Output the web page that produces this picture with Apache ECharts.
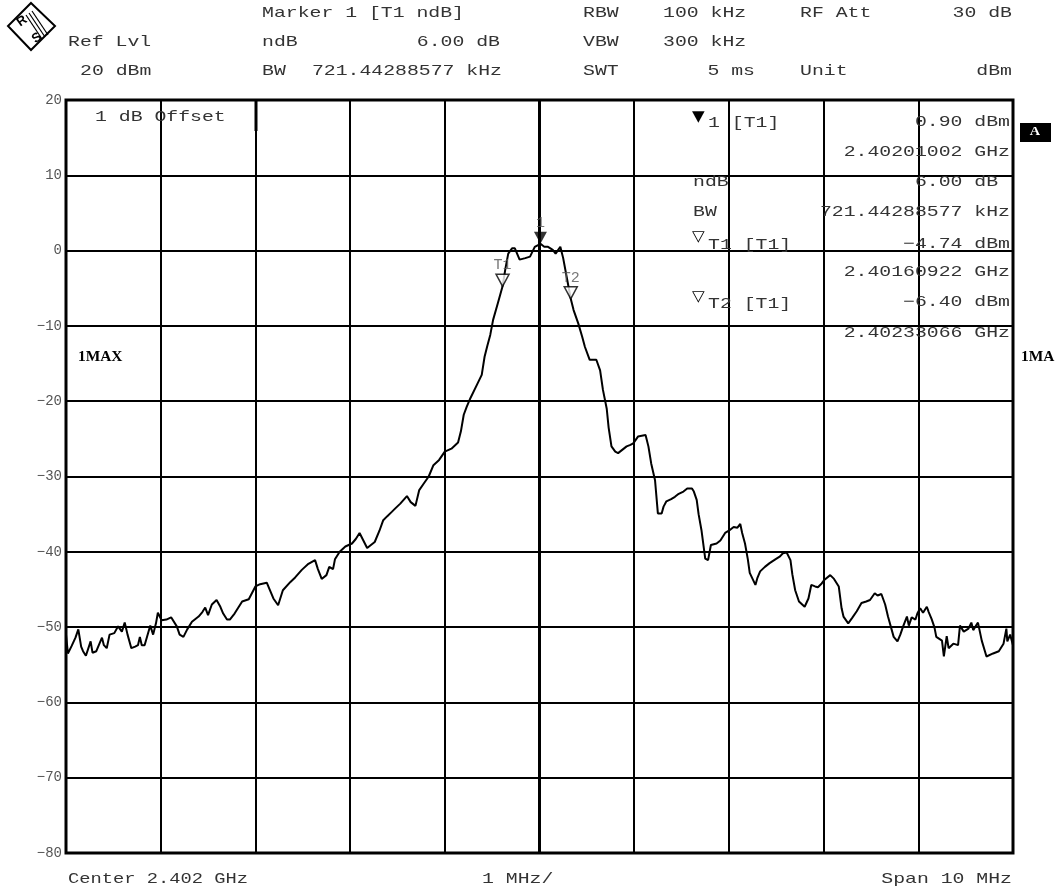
<!DOCTYPE html>
<html>
<head>
<meta charset="utf-8">
<script src="https://cdn.jsdelivr.net/npm/echarts@6/dist/echarts.min.js"></script>
<style>html,body{margin:0;padding:0;background:#fff}#c{width:1056px;height:890px}</style>
</head>
<body>
<div id="c"></div>
<script>
// Frequency offset from centre 2.402 GHz, in MHz
const freqMHz = [-5.00,-4.98,-4.96,-4.94,-4.90,-4.87,-4.84,-4.82,-4.79,-4.74,-4.72,-4.68,-4.62,-4.60,-4.57,-4.54,-4.49,-4.45,-4.41,-4.38,-4.35,-4.31,-4.27,-4.24,-4.22,-4.20,-4.17,-4.11,-4.08,-4.05,-4.03,-3.99,-3.94,-3.89,-3.83,-3.80,-3.76,-3.72,-3.67,-3.60,-3.56,-3.53,-3.50,-3.46,-3.41,-3.37,-3.34,-3.30,-3.27,-3.22,-3.14,-3.07,-3.00,-2.95,-2.88,-2.85,-2.81,-2.76,-2.71,-2.63,-2.58,-2.51,-2.44,-2.37,-2.34,-2.30,-2.25,-2.22,-2.18,-2.16,-2.11,-2.05,-1.98,-1.94,-1.90,-1.86,-1.82,-1.78,-1.74,-1.69,-1.65,-1.61,-1.56,-1.52,-1.47,-1.40,-1.36,-1.31,-1.27,-1.22,-1.17,-1.12,-1.06,-1.00,-0.93,-0.86,-0.83,-0.80,-0.77,-0.73,-0.66,-0.61,-0.58,-0.55,-0.52,-0.49,-0.44,-0.39,-0.36,-0.33,-0.29,-0.26,-0.23,-0.21,-0.15,-0.10,-0.05,0.01,0.05,0.09,0.14,0.17,0.22,0.25,0.29,0.33,0.36,0.41,0.45,0.48,0.53,0.60,0.64,0.67,0.71,0.73,0.76,0.80,0.83,0.89,0.92,0.96,0.99,1.04,1.08,1.12,1.15,1.18,1.22,1.25,1.29,1.31,1.34,1.39,1.43,1.47,1.52,1.56,1.61,1.63,1.66,1.68,1.71,1.75,1.78,1.81,1.83,1.87,1.91,1.96,2.00,2.05,2.09,2.12,2.14,2.17,2.20,2.22,2.28,2.30,2.33,2.38,2.43,2.49,2.54,2.57,2.61,2.65,2.67,2.70,2.74,2.80,2.84,2.87,2.91,2.94,2.98,3.01,3.07,3.11,3.16,3.19,3.21,3.26,3.30,3.35,3.40,3.45,3.49,3.54,3.57,3.61,3.65,3.68,3.74,3.78,3.81,3.84,3.88,3.90,3.93,3.97,3.99,4.02,4.05,4.09,4.11,4.14,4.17,4.19,4.25,4.27,4.30,4.32,4.37,4.42,4.44,4.48,4.53,4.56,4.58,4.63,4.67,4.72,4.79,4.85,4.90,4.93,4.94,4.97,5.00];
// Trace level, dBm
const levelDbm = [-51.0,-53.5,-53.7,-52.5,-51.4,-50.3,-52.6,-53.2,-53.8,-51.9,-53.4,-53.2,-51.4,-52.4,-52.8,-51.0,-50.8,-49.9,-50.6,-49.4,-51.0,-52.8,-52.6,-52.4,-51.3,-52.4,-52.4,-49.8,-51.0,-49.5,-48.1,-49.1,-49.0,-48.7,-49.9,-51.0,-51.3,-50.3,-49.3,-48.6,-48.0,-47.4,-48.4,-47.0,-46.4,-47.3,-48.2,-49.0,-49.0,-48.2,-46.6,-46.3,-44.6,-44.3,-44.1,-45.0,-46.2,-47.1,-45.1,-44.0,-43.4,-42.4,-41.6,-41.1,-42.3,-43.6,-43.1,-42.0,-42.3,-41.0,-40.0,-39.3,-38.9,-38.3,-37.5,-38.5,-39.5,-39.1,-38.7,-37.2,-35.8,-35.3,-34.7,-34.2,-33.6,-32.6,-33.4,-33.9,-31.8,-30.9,-30.0,-28.5,-27.8,-26.7,-26.3,-25.5,-24.0,-21.8,-20.8,-19.6,-17.8,-16.5,-14.1,-12.6,-11.2,-9.2,-7.0,-4.74,-2.4,-0.4,0.3,0.3,-0.6,-1.2,-1.0,-0.8,0.5,0.9,0.5,0.5,0.1,-0.4,0.5,-1.0,-3.7,-6.4,-7.9,-9.7,-11.4,-12.8,-14.5,-14.5,-15.9,-18.5,-21.0,-23.5,-26.0,-26.7,-26.9,-26.3,-26.0,-25.8,-25.6,-24.7,-24.6,-24.5,-26.0,-28.3,-30.5,-34.9,-34.9,-34.0,-33.3,-33.0,-32.7,-32.3,-32.0,-31.6,-31.6,-32.0,-33.1,-35.0,-37.1,-40.9,-41.1,-39.1,-39.3,-38.9,-38.5,-37.5,-37.2,-36.7,-36.8,-36.3,-37.5,-38.9,-41.0,-42.8,-44.4,-43.5,-42.6,-42.0,-41.5,-41.0,-40.6,-40.2,-40.1,-41.1,-43.0,-45.1,-46.6,-47.3,-46.2,-44.4,-44.6,-44.7,-44.2,-43.7,-43.1,-43.6,-44.6,-47.5,-48.6,-49.5,-48.8,-47.9,-46.8,-46.6,-46.4,-45.5,-45.8,-45.6,-47.0,-48.6,-51.3,-51.9,-51.0,-49.9,-48.6,-49.8,-48.7,-49.0,-48.2,-47.5,-48.1,-47.3,-48.0,-48.9,-50.0,-51.3,-51.8,-53.9,-51.2,-52.8,-52.2,-52.4,-49.8,-50.6,-50.2,-49.4,-50.4,-49.4,-51.8,-53.9,-53.5,-53.2,-52.2,-50.2,-51.9,-51.0,-52.4];
// Markers
const markerNames = ['1', 'T1', 'T2'];
const markerFreqMHz = [0.01, -0.39, 0.33];
const markerLevelDbm = [0.90, -4.74, -6.40];
// Axis ticks
const yTicks = [20, 10, 0, -10, -20, -30, -40, -50, -60, -70, -80];

const chart = echarts.init(document.getElementById('c'), null, {renderer: 'canvas'});
const MONO = '"Liberation Mono", "DejaVu Sans Mono", monospace';
const TXT = '#333';

function t(text, x, y, o) {
  o = o || {};
  return {
    type: 'text', x: x, y: y, scaleX: o.sx || 1.32, z: 100,
    style: {
      text: text, x: 0, y: 0,
      font: (o.bold ? 'bold ' : '') + (o.size || 15) + 'px ' + (o.family || MONO),
      fill: o.fill || TXT,
      textAlign: o.align || 'left', textVerticalAlign: 'middle'
    }
  };
}

const graphics = [
  // R&S logo
  {type: 'polygon', z: 100, shape: {points: [[31,3],[55,26],[31,50],[8,26]]}, style: {fill: '#fff', stroke: '#000', lineWidth: 2}},
  {type: 'line', z: 100, shape: {x1: 29, y1: 13, x2: 45, y2: 37}, style: {stroke: '#000', lineWidth: 1.2}},
  {type: 'line', z: 100, shape: {x1: 32, y1: 11, x2: 48, y2: 35}, style: {stroke: '#000', lineWidth: 1.2}},
  {type: 'line', z: 100, shape: {x1: 26, y1: 15, x2: 42, y2: 39}, style: {stroke: '#000', lineWidth: 1.2}},
  {type: 'text', z: 101, x: 22, y: 21, rotation: Math.PI / 5, style: {text: 'R', x: 0, y: 0, font: 'bold 13px "Liberation Sans"', fill: '#000', textAlign: 'center', textVerticalAlign: 'middle'}},
  {type: 'text', z: 101, x: 37, y: 38, rotation: Math.PI / 5, style: {text: 'S', x: 0, y: 0, font: 'bold 13px "Liberation Sans"', fill: '#000', textAlign: 'center', textVerticalAlign: 'middle'}},
  // header row 1
  t('Marker 1 [T1 ndB]', 262, 13),
  t('RBW', 583, 13), t('100 kHz', 663, 13), t('RF Att', 800, 13), t('30 dB', 1012, 13, {align: 'right'}),
  // header row 2
  t('Ref Lvl', 68, 42), t('ndB', 262, 42), t('6.00 dB', 500, 42, {align: 'right'}),
  t('VBW', 583, 42), t('300 kHz', 663, 42),
  // header row 3
  t('20 dBm', 80, 71), t('BW', 262, 71), t('721.44288577 kHz', 502, 71, {align: 'right'}),
  t('SWT', 583, 71), t('5 ms', 755, 71, {align: 'right'}), t('Unit', 800, 71), t('dBm', 1012, 71, {align: 'right'}),
  // in-plot annotations
  t('1 dB Offset', 95, 117),
  {type: 'line', z: 99, shape: {x1: 256, y1: 100, x2: 256, y2: 131}, style: {stroke: '#000', lineWidth: 3}},
  t('1MAX', 78, 357, {bold: true, size: 14, family: '"Liberation Serif"', sx: 1.1, fill: '#000'}),
  t('1MA', 1021, 357, {bold: true, size: 14, family: '"Liberation Serif"', sx: 1.1, fill: '#000'}),
  {type: 'rect', z: 100, shape: {x: 1020, y: 123, width: 31, height: 19}, style: {fill: '#000'}},
  t('A', 1035, 132, {bold: true, size: 13, family: '"Liberation Serif"', sx: 1.1, fill: '#fff', align: 'center'}),
  // marker table
  t('\u25BC', 692, 117, {size: 15, sx: 1.1, fill: '#000', family: '"DejaVu Sans"'}), t('1 [T1]', 708, 123),
  t('0.90 dBm', 1010, 122, {align: 'right'}),
  t('2.40201002 GHz', 1010, 152, {align: 'right'}),
  t('ndB', 693, 182), t('6.00 dB ', 1010, 182, {align: 'right'}),
  t('BW', 693, 212), t('721.44288577 kHz', 1010, 212, {align: 'right'}),
  t('\u25BD', 692, 237, {size: 15, sx: 1.1, fill: '#000', family: '"DejaVu Sans"'}), t('T1 [T1]', 708, 245),
  t('\u22124.74 dBm', 1010, 244, {align: 'right'}),
  t('2.40160922 GHz', 1010, 272, {align: 'right'}),
  t('\u25BD', 692, 297, {size: 15, sx: 1.1, fill: '#000', family: '"DejaVu Sans"'}), t('T2 [T1]', 708, 304),
  t('\u22126.40 dBm', 1010, 302, {align: 'right'}),
  t('2.40233066 GHz', 1010, 333, {align: 'right'}),
  // footer
  t('Center 2.402 GHz', 68, 879, {sx: 1.25}), t('1 MHz/', 482, 879), t('Span 10 MHz', 1012, 879, {align: 'right'})
];

const trace = freqMHz.map((f, i) => [f, levelDbm[i]]);
const markerSeries = markerNames.map((name, i) => ({
  type: 'scatter', z: 10,
  data: [[markerFreqMHz[i], markerLevelDbm[i]]],
  symbol: 'path://M0,0L10,0L5,9Z',
  symbolSize: [13, 12],
  symbolOffset: [0, '-50%'],
  itemStyle: i === 0 ? {color: '#000'} : {color: '#fff', borderColor: '#000', borderWidth: 1.5},
  label: {show: true, position: 'top', distance: 1, formatter: name, fontFamily: MONO, fontSize: 15, color: '#555'},
  silent: true
}));

chart.setOption({
  animation: false,
  backgroundColor: '#fff',
  grid: {left: 66, right: 43, top: 100, bottom: 37, show: true, borderColor: '#000', borderWidth: 3, backgroundColor: 'transparent'},
  xAxis: {
    type: 'value', min: -5, max: 5, interval: 1,
    axisLine: {show: false}, axisTick: {show: false}, axisLabel: {show: false},
    splitLine: {show: true, lineStyle: {color: '#000', width: 2}}
  },
  yAxis: {
    type: 'value', min: -80, max: 20, interval: 10,
    axisLine: {show: false}, axisTick: {show: false},
    axisLabel: {
      margin: 4, fontFamily: MONO, fontSize: 14, color: '#555', padding: [0, 0, 4, 0],
      formatter: v => (yTicks.indexOf(v) >= 0 ? String(v).replace('-', '\u2212') : '')
    },
    splitLine: {show: true, lineStyle: {color: '#000', width: 2}}
  },
  series: [
    {
      type: 'line', data: trace, showSymbol: false, symbol: 'none',
      lineStyle: {color: '#000', width: 2}, z: 5, silent: true,
      markLine: {silent: true, symbol: 'none', label: {show: false},
        lineStyle: {color: '#000', width: 3, type: 'solid'}, data: [{xAxis: 0}]}
    }
  ].concat(markerSeries),
  graphic: graphics
});
</script>
</body>
</html>
